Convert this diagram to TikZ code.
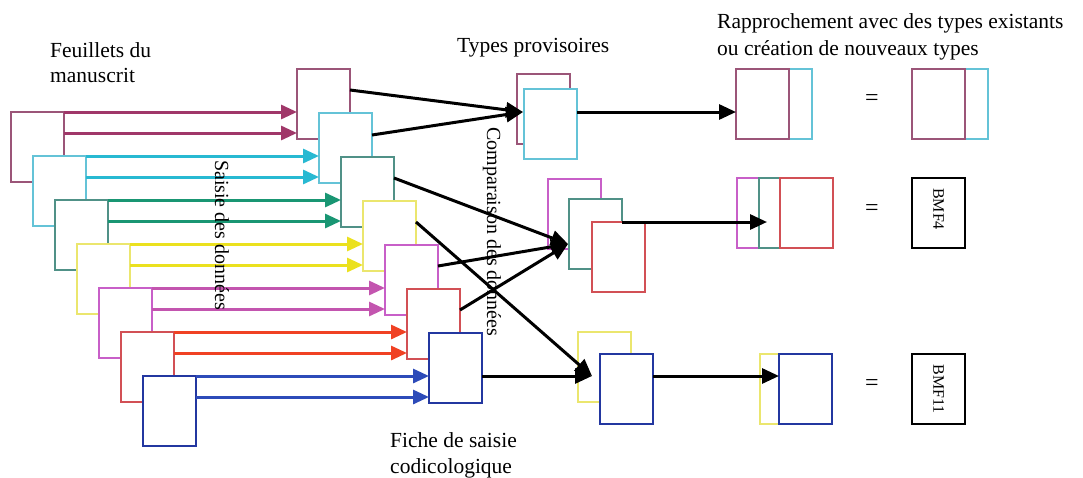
\documentclass[tikz,border=0pt]{standalone}
\usepackage{fontspec}
\setmainfont{Liberation Serif}
\usetikzlibrary{arrows.meta}
\definecolor{mauveB}{RGB}{155,85,120}
\definecolor{mauveA}{RGB}{160,55,105}
\definecolor{cyanB}{RGB}{100,195,215}
\definecolor{cyanA}{RGB}{40,185,210}
\definecolor{tealB}{RGB}{80,145,135}
\definecolor{tealA}{RGB}{25,150,115}
\definecolor{yellowB}{RGB}{235,230,110}
\definecolor{yellowA}{RGB}{235,225,30}
\definecolor{magentaB}{RGB}{200,95,200}
\definecolor{magentaA}{RGB}{195,85,175}
\definecolor{redB}{RGB}{210,80,85}
\definecolor{redA}{RGB}{240,65,35}
\definecolor{blueB}{RGB}{35,55,160}
\definecolor{blueA}{RGB}{45,75,185}
\tikzset{
  sheet/.style={draw=#1, fill=white, line width=1.8pt, minimum width=53pt, minimum height=70pt, inner sep=0pt, outer sep=0pt, anchor=north west},
  feed/.style={draw=#1, line width=3pt, -{Triangle[length=16pt,width=14pt]}},
  conn/.style={draw=black, line width=3pt, -{Triangle[length=17pt,width=15pt]}},
  lbl/.style={font=\fontsize{21.5}{25}\selectfont, inner sep=0pt, anchor=base west},
  vlbl/.style={font=\fontsize{20}{22}\selectfont, inner sep=0pt, rotate=-90},
  eqs/.style={font=\fontsize{24}{26}\selectfont, inner sep=0pt},
  code/.style={font=\fontsize{16}{17}\selectfont, inner sep=0pt, rotate=-90}
}
\begin{document}
\begin{tikzpicture}[x=1pt,y=-1pt]
\useasboundingbox (0,0) rectangle (1083,477);
% sheets of the manuscript and data-entry forms
\foreach \i/\c in {1/mauve,2/cyan,3/teal,4/yellow,5/magenta,6/red,7/blue}{
  \node[sheet=\c B] (L\i) at ({11+22*(\i-1)},{112+44*(\i-1)}) {};
}
\foreach \i/\c in {1/mauve,2/cyan,3/teal,4/yellow,5/magenta,6/red,7/blue}{
  \node[sheet=\c B] (M\i) at ({297+22*(\i-1)},{69+44*(\i-1)}) {};
}
\foreach \i/\c in {1/mauve,2/cyan,3/teal,4/yellow,5/magenta,6/red,7/blue}{
  \coordinate (a\i) at (L\i.north east);
  \coordinate (b\i) at ([yshift=-21pt]L\i.north east);
  \draw[feed=\c A] (a\i) -- (a\i -| M\i.west);
  \draw[feed=\c A] (b\i) -- (b\i -| M\i.west);
}
\node[vlbl] (sd) at (222,235) {Saisie des données};
% provisional types
\node[sheet=mauveB] (P1a) at (517,74) {};
\node[sheet=cyanB] (P1b) at (524,89) {};
\node[sheet=magentaB] (P2a) at (548,179) {};
\node[sheet=tealB] (P2b) at (569,199) {};
\node[sheet=redB] (P2c) at (592,222) {};
\node[sheet=yellowB] (P3a) at (578,332) {};
\node[sheet=blueB] (P3b) at (600,354) {};
% comparison
\coordinate (c1) at (523,112);
\coordinate (c2) at (568,244);
\coordinate (c3) at (592,376);
\draw[conn] ([yshift=-21pt]M1.north east) -- (c1);
\draw[conn] ([yshift=-22pt]M2.north east) -- (c1);
\draw[conn] ([yshift=-21pt]M3.north east) -- (c2);
\draw[conn] ([yshift=-21pt]M4.north east) -- (c3);
\draw[conn] ([yshift=-21pt]M5.north east) -- (c2);
\draw[conn] ([yshift=-21pt]M6.north east) -- (c2);
\draw[conn] ([yshift=-43pt]M7.north east) -- (c3);
\node[vlbl] (cd) at (492,232) {Comparaison des données};
% matching with existing types
\node[sheet=cyanB] (R1b) at (759,69) {};
\node[sheet=mauveB] (R1a) at (736,69) {};
\node[sheet=magentaB] (R2a) at (737,178) {};
\node[sheet=tealB] (R2b) at (759,178) {};
\node[sheet=redB] (R2c) at (780,178) {};
\node[sheet=yellowB] (R3a) at (760,354) {};
\node[sheet=blueB] (R3b) at (779,354) {};
\coordinate (e2) at (767,222);
\draw[conn] (c1 -| P1b.east) -- (c1 -| R1a.west);
\draw[conn] (P2c.north -| P2b.east) -- (e2);
\draw[conn] (c3 -| P3b.east) -- (c3 -| R3b.west);
\node[eqs] (eq1) at (872,100) {=};
\node[eqs] (eq2) at (872,210) {=};
\node[eqs] (eq3) at (872,385) {=};
\node[sheet=cyanB] (S1b) at (935,69) {};
\node[sheet=mauveB] (S1a) at (912,69) {};
\node[sheet=black, line width=2pt] (S2) at (912,178) {};
\node[sheet=black, line width=2pt] (S3) at (912,354) {};
\node[code] (S2t) at ([yshift=4pt]S2.center) {BMF4};
\node[code] (S3t) at (S3.center) {BMF11};
% labels
\node[lbl] (t1a) at (50,57) {Feuillets du};
\node[lbl] (t1b) at (50,82) {manuscrit};
\node[lbl] (t2) at (457,52) {Types provisoires};
\node[lbl] (t3a) at (717,28) {Rapprochement avec des types existants};
\node[lbl] (t3b) at (717,55) {ou création de nouveaux types};
\node[lbl] (t4a) at (390,447) {Fiche de saisie};
\node[lbl] (t4b) at (390,473) {codicologique};
\end{tikzpicture}
\end{document}
